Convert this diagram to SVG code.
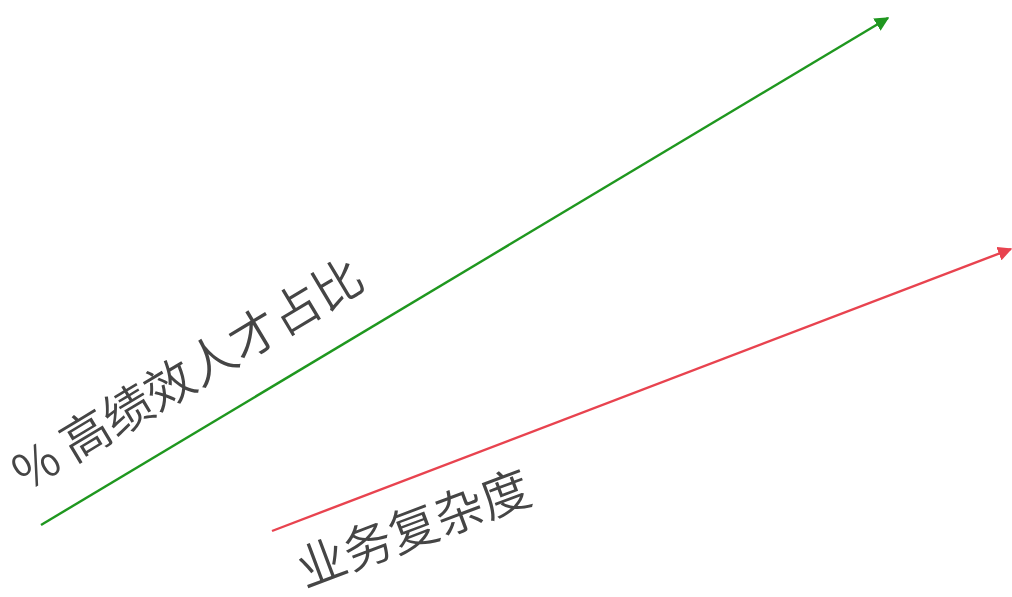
<svg xmlns="http://www.w3.org/2000/svg" width="1012" height="597" viewBox="0 0 1012 597">
<style>
.lbl{font-family:"Noto Sans CJK SC","Liberation Sans",sans-serif;font-size:49px;font-weight:350;fill:#454545;}
</style>
<defs>
<marker id="ag" viewBox="0 0 10 10" refX="9" refY="5" markerWidth="6" markerHeight="6" orient="auto" markerUnits="strokeWidth"><path d="M0,0 L10,5 L0,10 z" fill="#1f971f"/></marker>
<marker id="ar" viewBox="0 0 10 10" refX="9" refY="5" markerWidth="6" markerHeight="6" orient="auto" markerUnits="strokeWidth"><path d="M0,0 L10,5 L0,10 z" fill="#e8434f"/></marker>
</defs>
<rect width="1012" height="597" fill="#ffffff"/>
<g id="connectors">
<line x1="41" y1="525" x2="888" y2="18" stroke="#1f971f" stroke-width="2.4" marker-end="url(#ag)"/>
<line x1="272" y1="531" x2="1011" y2="249" stroke="#e8434f" stroke-width="2.4" marker-end="url(#ar)"/>
</g>
<g id="label-performance">
<text class="lbl" x="0" y="0" transform="translate(26,492) rotate(-31)">% 高绩效人才占比</text>
</g>
<g id="label-complexity">
<text class="lbl" x="0" y="0" transform="translate(305,588) rotate(-20.5)">业务复杂度</text>
</g>
</svg>
